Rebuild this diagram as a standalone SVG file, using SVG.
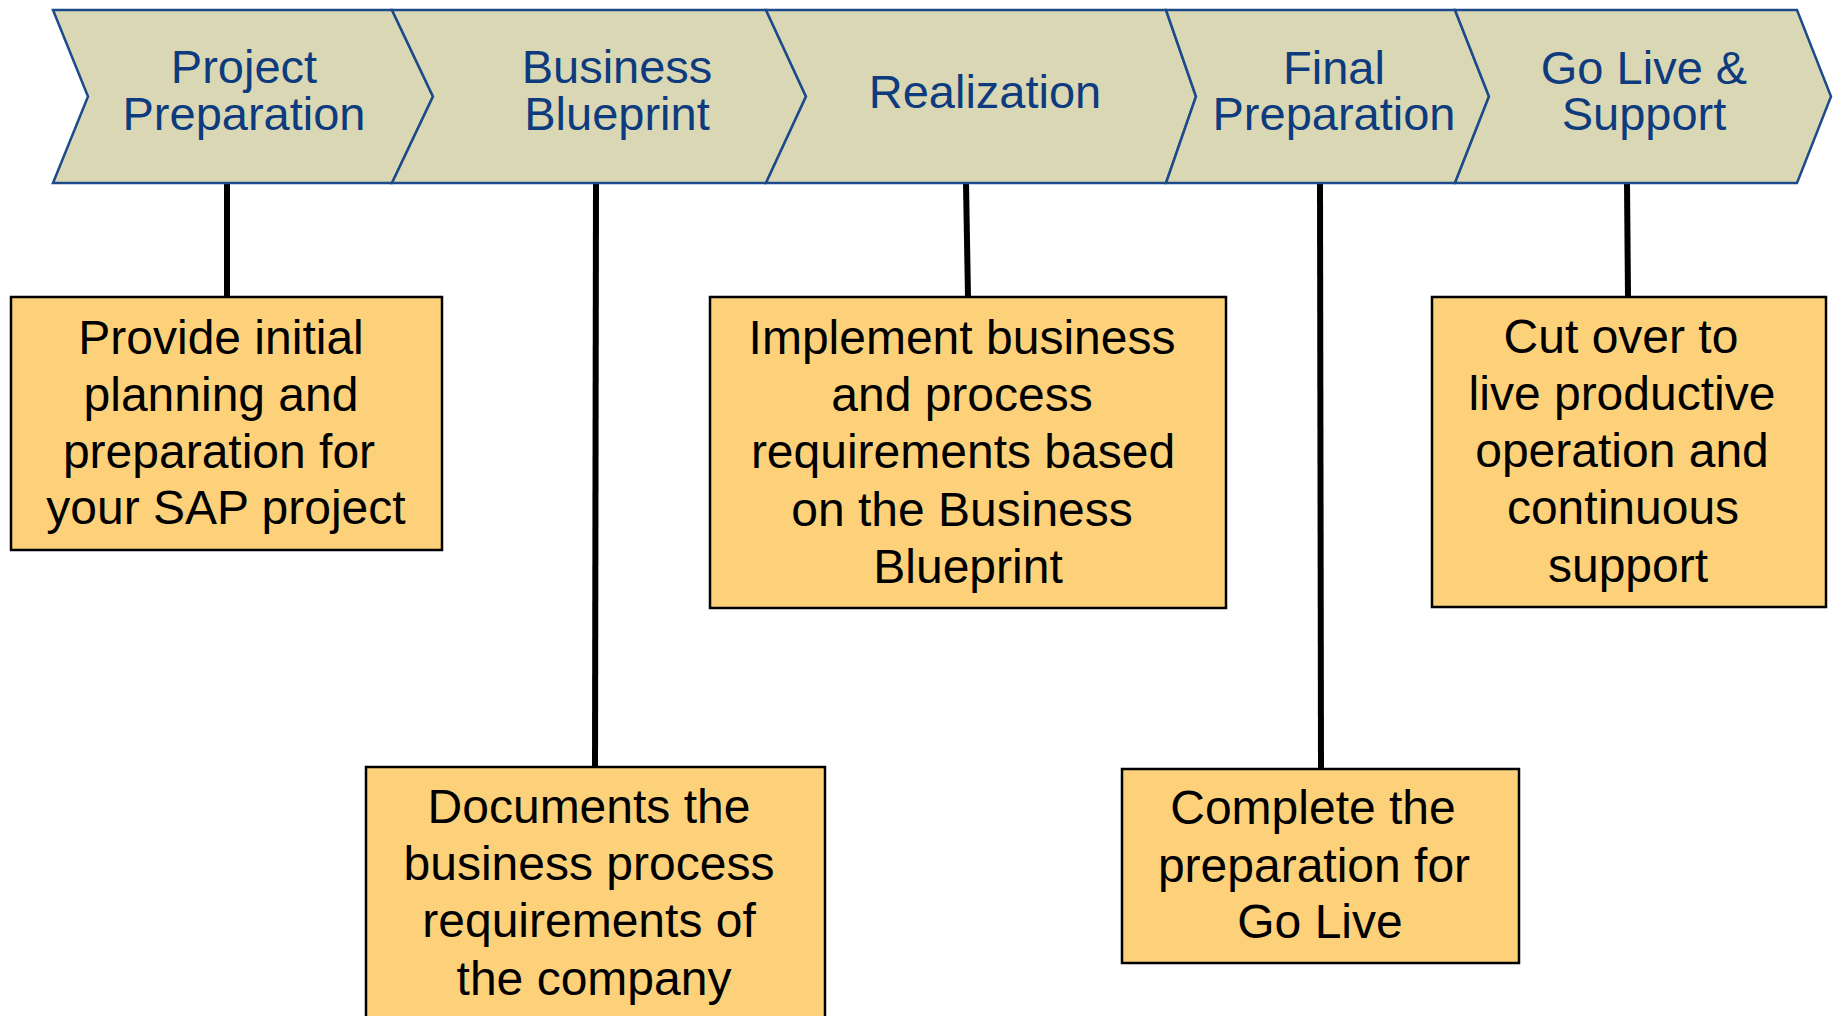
<svg xmlns="http://www.w3.org/2000/svg" width="1833" height="1016" viewBox="0 0 1833 1016">
<style>
.chev{fill:#DAD8B4;stroke:#1D4A8A;stroke-width:2.5;stroke-linejoin:miter}
.ct{font-family:"Liberation Sans",Arial,sans-serif;font-size:47px;fill:#0E3B7E;text-anchor:middle}
.box{fill:#FDD17A;stroke:#000;stroke-width:2.5}
.bt{font-family:"Liberation Sans",Arial,sans-serif;font-size:48px;fill:#000;text-anchor:middle}
.conn{stroke:#000;stroke-width:6;fill:none}
</style>
<rect width="1833" height="1016" fill="#fff"/>
<g id="connectors">
<line class="conn" x1="227" y1="183" x2="227" y2="297"/>
<line class="conn" x1="596" y1="183" x2="595" y2="767"/>
<line class="conn" x1="966" y1="183" x2="968" y2="297"/>
<line class="conn" x1="1320" y1="183" x2="1321" y2="769"/>
<line class="conn" x1="1627" y1="183" x2="1628" y2="297"/>
</g>
<g id="phase1">
<polygon class="chev" points="53,10 392,10 433,96.5 392,183 53,183 88,96.5"/>
<text class="ct" x="244" y="83">Project</text>
<text class="ct" x="244" y="130">Preparation</text>
</g>
<g id="phase2">
<polygon class="chev" points="392,10 766,10 806,96.5 766,183 392,183 433,96.5"/>
<text class="ct" x="617" y="83">Business</text>
<text class="ct" x="617" y="130">Blueprint</text>
</g>
<g id="phase3">
<polygon class="chev" points="766,10 1166,10 1196,96.5 1166,183 766,183 806,96.5"/>
<text class="ct" x="985" y="108">Realization</text>
</g>
<g id="phase4">
<polygon class="chev" points="1166,10 1455,10 1489,96.5 1455,183 1166,183 1196,96.5"/>
<text class="ct" x="1334" y="84">Final</text>
<text class="ct" x="1334" y="130">Preparation</text>
</g>
<g id="phase5">
<polygon class="chev" points="1455,10 1797,10 1831,96.5 1797,183 1455,183 1489,96.5"/>
<text class="ct" x="1644" y="84">Go Live &amp;</text>
<text class="ct" x="1644" y="130">Support</text>
</g>
<g id="desc1">
<rect class="box" x="11" y="297" width="431" height="253"/>
<text class="bt" x="221" y="354">Provide initial</text>
<text class="bt" x="221" y="411">planning and</text>
<text class="bt" x="219" y="468">preparation for</text>
<text class="bt" x="226" y="524">your SAP project</text>
</g>
<g id="desc2">
<rect class="box" x="366" y="767" width="459" height="270"/>
<text class="bt" x="589" y="823">Documents the</text>
<text class="bt" x="589" y="880">business process</text>
<text class="bt" x="589" y="937">requirements of</text>
<text class="bt" x="594" y="995">the company</text>
</g>
<g id="desc3">
<rect class="box" x="710" y="297" width="516" height="311"/>
<text class="bt" x="962" y="354">Implement business</text>
<text class="bt" x="962" y="411">and process</text>
<text class="bt" x="963" y="468">requirements based</text>
<text class="bt" x="962" y="526">on the Business</text>
<text class="bt" x="968" y="583">Blueprint</text>
</g>
<g id="desc4">
<rect class="box" x="1122" y="769" width="397" height="194"/>
<text class="bt" x="1313" y="824">Complete the</text>
<text class="bt" x="1314" y="882">preparation for</text>
<text class="bt" x="1320" y="938">Go Live</text>
</g>
<g id="desc5">
<rect class="box" x="1432" y="297" width="394" height="310"/>
<text class="bt" x="1621" y="353">Cut over to</text>
<text class="bt" x="1622" y="410">live productive</text>
<text class="bt" x="1622" y="467">operation and</text>
<text class="bt" x="1623" y="524">continuous</text>
<text class="bt" x="1628" y="582">support</text>
</g>
</svg>
